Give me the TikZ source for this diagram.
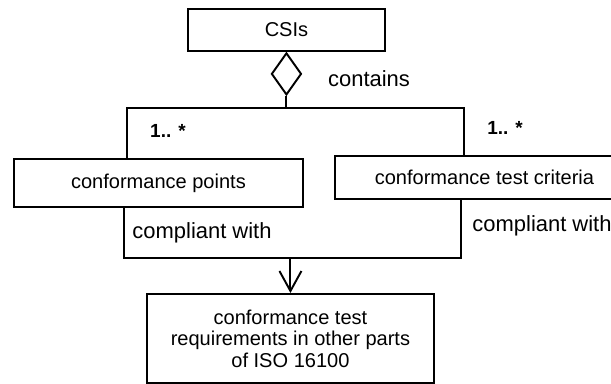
\documentclass[tikz,border=0pt]{standalone}
\usepackage{fontspec}
\setmainfont{Liberation Sans}
\usetikzlibrary{shapes.geometric,arrows.meta}
\tikzset{
  box/.style={draw, line width=1.1pt, inner sep=2pt, align=center,
    font=\fontsize{11.4}{12.2}\selectfont},
  lbl/.style={font=\fontsize{12.5}{14}\selectfont},
  mult/.style={font=\fontsize{10.8}{12}\selectfont\bfseries},
  link/.style={line width=1.1pt},
}
\begin{document}
\begin{tikzpicture}[x=0.02cm,y=-0.02cm]
\useasboundingbox (0,0) rectangle (611,383);
\pgfmathsetmacro{\topbar}{108}
\pgfmathsetmacro{\botbar}{258}
  \node[box, anchor=north west, minimum width=3.94cm, minimum height=0.84cm] (csi) at (187,8) {CSIs};
  \node[draw, shape=diamond, line width=1.1pt, inner sep=0pt, minimum width=0.6cm, minimum height=0.84cm,
    anchor=north] (agg) at (csi.south) {};
  \node[box, anchor=north west, minimum width=5.78cm, minimum height=0.96cm] (pts) at (13,158) {conformance points};
  \node[box, anchor=north west, minimum width=5.98cm, minimum height=0.86cm] (crit) at (334,155) {conformance test criteria};
  \node[box, anchor=north west, minimum width=5.74cm, minimum height=1.78cm] (req) at (146,293)
    {conformance test\\requirements in other parts\\of ISO 16100};
  % aggregation
  \coordinate (tl) at (127,\topbar);
  \coordinate (tr) at (464,\topbar);
  \draw[link] (agg.south) -- (agg.south |- tl);
  \draw[link] (pts.north -| tl) -- (tl) -- (tr) -- (crit.north -| tr);
  \node[lbl] (cont) at (369,79) {contains};
  \node[mult] (m1) at (168,131) {1.. *};
  \node[mult] (m2) at (505,128) {1.. *};
  % compliance
  \coordinate (bl) at (124,\botbar);
  \coordinate (br) at (461,\botbar);
  \draw[link] (pts.south -| bl) -- (bl) -- (br) -- (crit.south -| br);
  \draw[link, -{Straight Barb[length=4mm, width=4.4mm, line width=1.1pt]}] (req.north |- bl) -- (req.north);
  \node[lbl] (c1) at (202,233) {compliant with};
  \node[lbl] (c2) at (542,226) {compliant with};
\end{tikzpicture}
\end{document}
